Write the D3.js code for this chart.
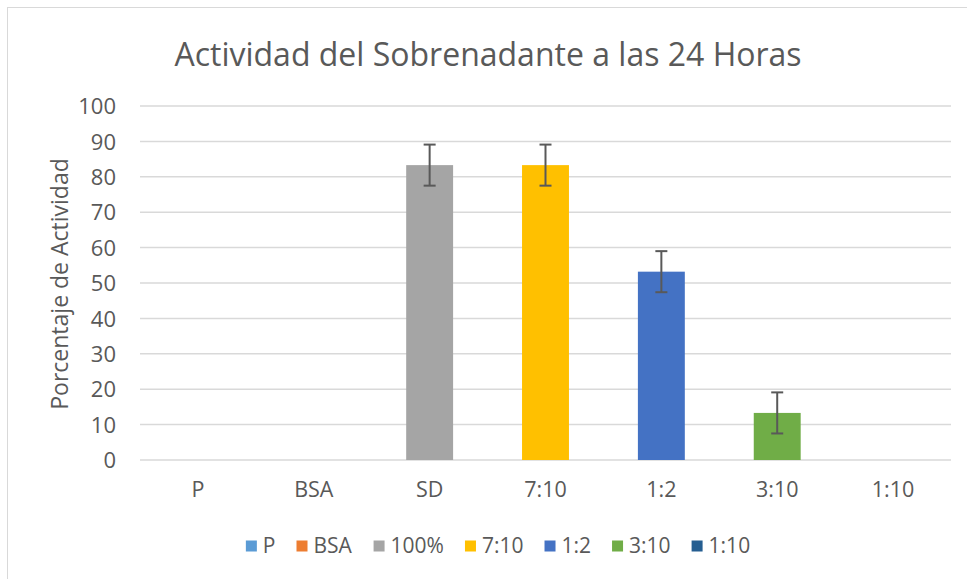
<!DOCTYPE html>
<html>
<head>
<meta charset="utf-8">
<script src="https://cdn.jsdelivr.net/npm/d3@7"></script>
<style>
  body { margin: 0; background: #fff; }
  svg text { font-family: "Open Sans", sans-serif; fill: #595959; }
</style>
</head>
<body>
<div id="chart"></div>
<script>
// categories on the x axis, legend names and values (one bar per category)
var categories = ["P", "BSA", "SD", "7:10", "1:2", "3:10", "1:10"];
var seriesNames = ["P", "BSA", "100%", "7:10", "1:2", "3:10", "1:10"];
var values = [0, 0, 83.3, 83.3, 53.2, 13.3, 0];
var errors = [0, 0, 5.8, 5.8, 5.8, 5.8, 0];
var yTicks = [0, 10, 20, 30, 40, 50, 60, 70, 80, 90, 100];

var colors = ["#5B9BD5", "#ED7D31", "#A5A5A5", "#FFC000", "#4472C4", "#70AD47", "#255E91"];

var width = 967,
    height = 579;

var margin = {top: 106, left: 140, right: 16, bottom: 119};

var svg = d3.select("#chart").append("svg")
  .attr("width", width)
  .attr("height", height);

// outer chart border (only top/left visible in the crop)
svg.append("rect")
  .attr("x", 7.5).attr("y", 7.5)
  .attr("width", width + 10).attr("height", height + 10)
  .attr("fill", "none")
  .attr("stroke", "#D9D9D9");

var x = d3.scaleBand()
  .domain(categories)
  .range([margin.left, width - margin.right])
  .paddingInner(0.595)
  .paddingOuter(0.2975);

var y = d3.scaleLinear()
  .domain([0, 100])
  .range([height - margin.bottom, margin.top]);

//GRIDLINES
svg.append("g")
  .selectAll("line")
  .data(yTicks)
  .enter().append("line")
  .attr("x1", margin.left)
  .attr("x2", width - margin.right)
  .attr("y1", function(d) { return y(d); })
  .attr("y2", function(d) { return y(d); })
  .attr("stroke", "#D9D9D9")
  .attr("stroke-width", 1.5);

//Y AXIS
var yAxis = svg.append("g")
  .attr("transform", "translate(" + margin.left + ",0)")
  .call(d3.axisLeft(y).tickValues(yTicks).tickSize(0).tickPadding(24));
yAxis.select(".domain").remove();
yAxis.selectAll("text")
  .style("font-size", "22px")
  .attr("dy", "0.35em");

//X AXIS
var xAxis = svg.append("g")
  .attr("transform", "translate(0," + (height - margin.bottom) + ")")
  .call(d3.axisBottom(x).tickSize(0).tickPadding(22));
xAxis.select(".domain").remove();
xAxis.selectAll("text")
  .style("font-size", "21.5px");

//BARS
var rows = categories.map(function(c, i) {
  return {cat: c, name: seriesNames[i], value: values[i], err: errors[i], color: colors[i]};
});

svg.append("g")
  .selectAll("rect")
  .data(rows.filter(function(d) { return d.value > 0; }))
  .enter().append("rect")
  .attr("x", function(d) { return x(d.cat); })
  .attr("width", x.bandwidth())
  .attr("y", function(d) { return y(d.value); })
  .attr("height", function(d) { return y(0) - y(d.value); })
  .attr("fill", function(d) { return d.color; });

//ERROR BARS
var eb = svg.append("g")
  .selectAll("g")
  .data(rows.filter(function(d) { return d.err > 0; }))
  .enter().append("g")
  .attr("stroke", "#595959")
  .attr("stroke-width", 2);

eb.append("line")
  .attr("x1", function(d) { return x(d.cat) + x.bandwidth() / 2; })
  .attr("x2", function(d) { return x(d.cat) + x.bandwidth() / 2; })
  .attr("y1", function(d) { return y(d.value + d.err); })
  .attr("y2", function(d) { return y(d.value - d.err); });

eb.selectAll(".cap")
  .data(function(d) { return [d.value + d.err, d.value - d.err].map(function(v) { return {cat: d.cat, v: v}; }); })
  .enter().append("line")
  .attr("class", "cap")
  .attr("x1", function(d) { return x(d.cat) + x.bandwidth() / 2 - 6; })
  .attr("x2", function(d) { return x(d.cat) + x.bandwidth() / 2 + 6; })
  .attr("y1", function(d) { return y(d.v); })
  .attr("y2", function(d) { return y(d.v); });

//TITLES
svg.append("text")
  .attr("x", 488)
  .attr("y", 55)
  .attr("dy", "0.35em")
  .attr("text-anchor", "middle")
  .style("font-size", "32px")
  .text("Actividad del Sobrenadante a las 24 Horas");

svg.append("text")
  .attr("transform", "translate(60," + ((y(0) + y(100)) / 2 + 1) + ") rotate(-90)")
  .attr("dy", "0.35em")
  .attr("text-anchor", "middle")
  .style("font-size", "23px")
  .text("Porcentaje de Actividad");

//LEGEND
var legend = svg.append("g")
  .attr("transform", "translate(0,546)");

var items = legend.selectAll("g")
  .data(rows)
  .enter().append("g");

items.append("rect")
  .attr("y", -5.5)
  .attr("width", 11)
  .attr("height", 11)
  .attr("fill", function(d) { return d.color; });

items.append("text")
  .attr("x", 17)
  .attr("dy", "0.35em")
  .style("font-size", "21px")
  .text(function(d) { return d.name; });

// lay items out side by side, then center the row
var gap = 21;
var pos = 0;
items.each(function() {
  var w = this.getBBox().width;
  d3.select(this).attr("transform", "translate(" + pos + ",0)");
  pos += w + gap;
});
var total = pos - gap;
legend.attr("transform", "translate(" + (498 - total / 2) + ",546)");
</script>
</body>
</html>
